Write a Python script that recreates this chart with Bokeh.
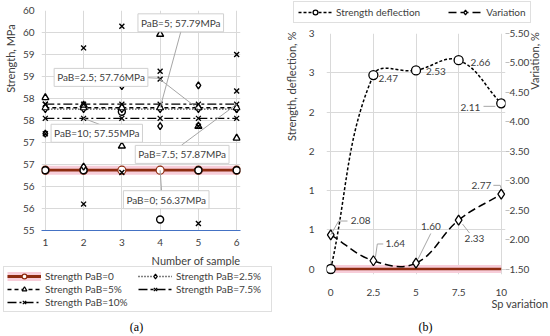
import math
import numpy as np
from bokeh.plotting import figure
from bokeh.layouts import row, column
from bokeh.models import (Range1d, LinearAxis, FixedTicker, NumeralTickFormatter,
                          Label, Legend, LegendItem)
from bokeh.embed import file_html
from bokeh.resources import INLINE

FONT = "Lato"
TXT = "#404040"
GRID = "#D9D9D9"
BROWN = "#8E2C10"
GLOW = "#F7CDD9"
NB = "\u00a0"

# ---------------- data (a) ----------------
samples = [1, 2, 3, 4, 5, 6]
series_names = ["Strength PaB=0", "Strength PaB=2.5%", "Strength PaB=5%",
                "Strength PaB=7.5%", "Strength PaB=10%"]
avg_strength = [56.37, 57.76, 57.79, 57.87, 57.55]
strength_pab0 = [56.37, 56.37, 57.70, 55.25, 56.37, 56.37]
strength_pab25 = [57.20, 56.45, 58.28, 57.37, 58.30, 57.76]
strength_pab5 = [58.02, 57.85, 56.92, 59.46, 57.37, 57.10]
strength_pab75 = [57.87, 59.15, 59.64, 58.62, 57.37, 58.17]
strength_pab10 = [57.20, 55.60, 56.32, 58.44, 55.16, 59.00]
strength_ticks = [55.0, 55.5, 56.0, 56.5, 57.0, 57.5, 58.0, 58.5, 59.0, 59.5, 60.0]
callout_text = ["PaB=0; 56.37MPa", "PaB=2.5; 57.76MPa", "PaB=5; 57.79MPa",
                "PaB=7.5; 57.87MPa", "PaB=10; 57.55MPa"]
# label anchor (left, middle) and leader path, data coordinates
callout_label_xy = [(3.04, 55.70), (1.23, 58.48), (3.42, 59.72), (3.35, 56.73), (1.15, 57.21)]
callout_leader = [
    ([4.04, 4.0], [55.87, 56.37]),
    ([3.5, 3.96, 5.0], [58.48, 58.46, 57.76]),
    ([4.56, 4.0], [59.58, 57.79]),
    ([4.56, 6.0], [56.94, 57.87]),
    ([2.42, 2.0], [57.41, 57.55]),
]

# ---------------- data (b) ----------------
sp_variation = [0, 2.5, 5, 7.5, 10]
strength_deflection = [0.0, 2.47, 2.53, 2.66, 2.11]
variation = [2.08, 1.64, 1.60, 2.33, 2.77]
baseline = [0, 0, 0, 0, 0]
left_ticks_b = [0, 0.5, 1.0, 1.5, 2.0, 2.5, 3.0]
right_ticks_b = [1.5, 2.0, 2.5, 3.0, 3.5, 4.0, 4.5, 5.0, 5.5]
x_ticks_b = [0, 2.5, 5, 7.5, 10]


def no_align(fig):
    try:
        fig.frame_align = False
    except Exception:
        pass


def style_axis(ax, size="10px"):
    ax.major_label_text_font = FONT
    ax.major_label_text_font_size = size
    ax.major_label_text_color = TXT
    ax.axis_label_text_font = FONT
    ax.axis_label_text_font_size = "11px"
    ax.axis_label_text_font_style = "normal"
    ax.axis_label_text_color = TXT
    ax.minor_tick_line_color = None
    ax.major_tick_line_color = None


def txt(x, y, text, **kw):
    d = dict(text_font=FONT, text_font_size="10px", text_color=TXT,
             text_baseline="middle", text_align="left")
    d.update(kw)
    return Label(x=x, y=y, text=text, **d)


def blank_fig(h):
    f = figure(width=275, height=h, output_backend="svg", toolbar_location=None,
               x_range=Range1d(100, 101), y_range=Range1d(100, 101),
               x_axis_location=None, y_axis_location=None,
               min_border_left=0, min_border_right=0, min_border_top=0,
               min_border_bottom=0)
    f.grid.visible = False
    f.outline_line_color = None
    no_align(f)
    return f


def style_legend(lg):
    lg.label_text_font = FONT
    lg.label_text_font_size = "10px"
    lg.label_text_color = TXT
    lg.label_height = 12
    lg.glyph_height = 12
    lg.glyph_width = 34
    lg.label_standoff = 4
    lg.margin = 0
    lg.border_line_color = "#BFBFBF"
    lg.background_fill_color = "white"


# ================= figure (a) =================
p1 = figure(width=275, height=248, output_backend="svg", toolbar_location=None,
            x_range=Range1d(0.9, 6.1), y_range=Range1d(55, 60),
            min_border_left=38, min_border_right=35, min_border_top=10,
            min_border_bottom=14)
no_align(p1)
p1.outline_line_color = None
p1.xgrid.ticker = FixedTicker(ticks=samples)
p1.ygrid.ticker = FixedTicker(ticks=strength_ticks)
p1.grid.grid_line_color = GRID
p1.yaxis.ticker = FixedTicker(ticks=strength_ticks)
p1.yaxis.formatter = NumeralTickFormatter(format="0")
p1.yaxis.axis_line_color = None
p1.yaxis.axis_label = NB * 44 + "Strength, MPa"
p1.yaxis.major_label_standoff = 1
p1.yaxis.axis_label_standoff = 3
p1.xaxis.ticker = FixedTicker(ticks=samples)
p1.xaxis.axis_line_color = "#4472C4"
p1.xaxis.major_label_standoff = 2
style_axis(p1.xaxis[0])
style_axis(p1.yaxis[0])

all_samples = [strength_pab0, strength_pab25, strength_pab5, strength_pab75, strength_pab10]
markers = ["circle", "diamond", "triangle", "x", "x"]
dashes = ["solid", "1 2", "4 3", "9 3 3 3", "9 3 2 3"]

legA = blank_fig(88)
items = []
for i in range(5):
    avg_line = [avg_strength[i]] * len(samples)
    rs = []
    for fig, collect in ((p1, False), (legA, True)):
        if i == 0:
            r1 = fig.line(samples, avg_line, line_color=GLOW, line_width=9)
            r2 = fig.line(samples, avg_line, line_color=BROWN, line_width=2.8)
            r3 = fig.scatter(samples, avg_line, marker="circle", size=8,
                             fill_color="white", line_color=BROWN, line_width=1.2)
            group = [r1, r2, r3]
        else:
            r1 = fig.line(samples, avg_line, line_color="black", line_width=1.3,
                          line_dash=dashes[i])
            r2 = fig.scatter(samples, avg_line, marker=markers[i], size=7,
                             fill_color="white", line_color="black", line_width=1.2)
            group = [r1, r2]
        if collect:
            rs = group
    p1.scatter(samples, all_samples[i], marker=markers[i], size=7,
               fill_color="white", line_color="black", line_width=1.4)
    items.append(LegendItem(label=series_names[i], renderers=rs))

for i in range(5):
    lx, ly = callout_leader[i]
    p1.line(lx, ly, line_color="#A6A6A6", line_width=1)
for i in range(5):
    x, y = callout_label_xy[i]
    lab = txt(x, y, callout_text[i], background_fill_color="white",
              border_line_color="#D0D0D0")
    try:
        lab.padding = 3
    except Exception:
        pass
    p1.add_layout(lab)

leg1 = Legend(items=items, location=(3, 24), orientation="horizontal")
try:
    leg1.ncols = 2
except Exception:
    pass
style_legend(leg1)
leg1.spacing = 1
leg1.padding = 3
leg1.label_width = 92
legA.add_layout(leg1)
legA.add_layout(txt(240, 76, "Number of sample", x_units="screen", y_units="screen",
                    text_align="right", text_font_size="11px"))
legA.add_layout(Label(x=136, y=10, x_units="screen", y_units="screen", text="(a)",
                      text_align="center", text_baseline="middle",
                      text_font="Liberation Serif", text_font_size="12px",
                      text_color="black"))

# ================= figure (b) =================
pad_l = 0.07
p2 = figure(width=275, height=273, output_backend="svg", toolbar_location=None,
            x_range=Range1d(-0.25, 10.25), y_range=Range1d(-pad_l, 3.0),
            min_border_left=51, min_border_right=43, min_border_top=8,
            min_border_bottom=21)
no_align(p2)
p2.extra_y_ranges = {"var": Range1d(1.5 - pad_l * 4 / 3, 5.5)}
p2.outline_line_color = None
p2.xgrid.ticker = FixedTicker(ticks=x_ticks_b)
p2.ygrid.ticker = FixedTicker(ticks=left_ticks_b)
p2.grid.grid_line_color = GRID
p2.xaxis.ticker = FixedTicker(ticks=x_ticks_b)
p2.xaxis.formatter = NumeralTickFormatter(format="0.[0]")
p2.xaxis.axis_line_color = None
p2.xaxis.major_label_standoff = 8
p2.yaxis.ticker = FixedTicker(ticks=left_ticks_b)
p2.yaxis.formatter = NumeralTickFormatter(format="0")
p2.yaxis.axis_line_color = None
p2.yaxis.axis_label = NB * 48 + "Strength, deflection, %"
p2.yaxis.major_label_standoff = 6
p2.yaxis.axis_label_standoff = 8
style_axis(p2.xaxis[0])
style_axis(p2.yaxis[0])
ax_r = LinearAxis(y_range_name="var", ticker=FixedTicker(ticks=right_ticks_b),
                  formatter=NumeralTickFormatter(format="0.00"),
                  axis_label=NB * 23 + "Variation, %")
style_axis(ax_r)
ax_r.axis_line_color = None
ax_r.major_tick_line_color = "#BFBFBF"
ax_r.major_tick_out = 4
ax_r.major_tick_in = 0
ax_r.major_label_standoff = 0
ax_r.axis_label_standoff = 2
try:
    ax_r.axis_label_orientation = math.pi / 2
except Exception:
    pass
p2.add_layout(ax_r, "right")

# baseline with glow
p2.line(sp_variation, baseline, line_color=GLOW, line_width=8)
p2.line(sp_variation, baseline, line_color=BROWN, line_width=2.5)

kx = 17.3
ky_l = 244 / (3.0 + pad_l)
ky_r = 244 / (4.0 + pad_l * 4 / 3)


def smooth_ctrl(xs, ys, sx, sy, k=0.4):
    P = np.column_stack([np.asarray(xs, float) * sx, np.asarray(ys, float) * sy])
    n = len(P)
    seg = np.hypot(*(P[1:] - P[:-1]).T)
    c0, c1 = [], []
    for i in range(n - 1):
        a = P[i + 1] - P[i - 1] if i > 0 else P[i + 1] - P[i]
        la = seg[i - 1] if i > 0 else 0.0
        c0.append(P[i] + a * k * seg[i] / (la + seg[i]))
        b = P[i + 2] - P[i] if i + 2 < n else P[i + 1] - P[i]
        lb = seg[i + 1] if i + 2 < n else 0.0
        c1.append(P[i + 1] - b * k * seg[i] / (lb + seg[i]))
    c0 = np.array(c0)
    c1 = np.array(c1)
    return dict(x0=P[:-1, 0] / sx, y0=P[:-1, 1] / sy, x1=P[1:, 0] / sx, y1=P[1:, 1] / sy,
                cx0=c0[:, 0] / sx, cy0=c0[:, 1] / sy, cx1=c1[:, 0] / sx, cy1=c1[:, 1] / sy)


DEF_STYLE = dict(line_color="black", line_width=1.5, line_dash="3 2")
VAR_STYLE = dict(line_color="black", line_width=1.5, line_dash="8 4")
DEF_MK = dict(marker="circle", size=9, fill_color="white", line_color="black", line_width=1.3)
VAR_MK = dict(marker="diamond", size=10, fill_color="white", line_color="black", line_width=1.3)

p2.bezier(**smooth_ctrl(sp_variation, strength_deflection, kx, ky_l), **DEF_STYLE)
p2.scatter(sp_variation, strength_deflection, **DEF_MK)
p2.bezier(**smooth_ctrl(sp_variation, variation, kx, ky_r), y_range_name="var", **VAR_STYLE)
p2.scatter(sp_variation, variation, y_range_name="var", **VAR_MK)

# data labels (screen offsets)
defl_off = [None, (5, -3, "left"), (10, -1, "left"), (12, -2, "left"), (-21, -4, "right")]
defl_leader = [None, None, None, None, [(-18, -3), (-6, -3)]]
var_off = [(20, 14, "left"), (12, 17, "left"), (5, 37, "left"), (6, -18, "left"), (-10, 9, "right")]
var_leader = [[(0, 0), (8, 14), (17, 14)], [(2, 3), (4, 17), (10, 17)],
              [(2, 4), (15, 30)], [(4, -4), (11, -13)], [(-8, 9), (-1, 9), (0, 6)]]

for i in range(len(sp_variation)):
    if defl_off[i] is not None:
        dx, dy, al = defl_off[i]
        p2.add_layout(txt(sp_variation[i], strength_deflection[i],
                          f"{strength_deflection[i]:.2f}", x_offset=dx, y_offset=dy,
                          text_align=al))
    if defl_leader[i] is not None:
        p2.line([sp_variation[i] + a / kx for a, b in defl_leader[i]],
                [strength_deflection[i] + b / ky_l for a, b in defl_leader[i]],
                line_color="#A6A6A6", line_width=1)
    dx, dy, al = var_off[i]
    p2.add_layout(txt(sp_variation[i], variation[i], f"{variation[i]:.2f}",
                      y_range_name="var", x_offset=dx, y_offset=dy, text_align=al))
    p2.line([sp_variation[i] + a / kx for a, b in var_leader[i]],
            [variation[i] + b / ky_r for a, b in var_leader[i]],
            line_color="#A6A6A6", line_width=1, y_range_name="var")

# legend above (b)
legB = blank_fig(25)
lb1 = legB.line(sp_variation, strength_deflection, **DEF_STYLE)
mb1 = legB.scatter(sp_variation, strength_deflection, **DEF_MK)
lb2 = legB.line(sp_variation, variation, **VAR_STYLE)
mb2 = legB.scatter(sp_variation, variation, **VAR_MK)
leg2 = Legend(items=[LegendItem(label="Strength deflection", renderers=[lb1, mb1]),
                     LegendItem(label="Variation", renderers=[lb2, mb2])],
              orientation="horizontal", location=(18, 2))
style_legend(leg2)
leg2.spacing = 28
leg2.padding = 4
legB.add_layout(leg2)

# caption below (b)
capB = blank_fig(38)
capB.add_layout(txt(273, 33, "Sp variation", x_units="screen", y_units="screen",
                    text_align="right", text_font_size="11px"))
capB.add_layout(Label(x=150, y=10, x_units="screen", y_units="screen", text="(b)",
                      text_align="center", text_baseline="middle",
                      text_font="Liberation Serif", text_font_size="12px",
                      text_color="black"))

layout = row(column(p1, legA), column(legB, p2, capB))
open("out.html", "w").write(file_html(layout, INLINE))
